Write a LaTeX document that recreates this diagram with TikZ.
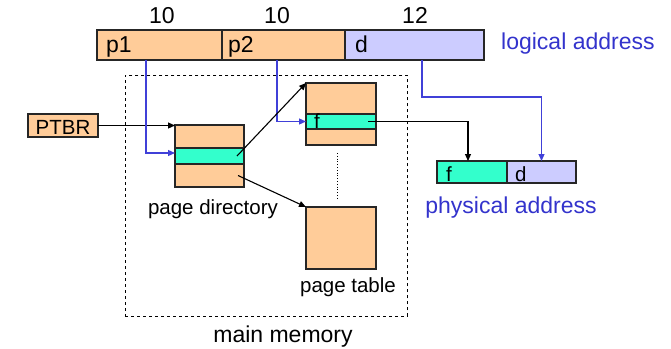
\documentclass[tikz,border=0pt]{standalone}
\usepackage{fontspec}
\setmainfont{Liberation Sans}
\usetikzlibrary{arrows.meta,calc}
\definecolor{peach}{RGB}{255,204,153}
\definecolor{aqua}{RGB}{51,255,204}
\definecolor{lavender}{RGB}{204,204,255}
\definecolor{labelblue}{RGB}{51,51,204}
\definecolor{lineblue}{RGB}{64,64,216}
\tikzset{
  cell/.style={draw=black!85, line width=1.2pt, anchor=north west, inner sep=0pt, outer sep=0pt},
  pcell/.style={cell, fill=peach},
  acell/.style={cell, fill=aqua},
  lcell/.style={cell, fill=lavender},
  big/.style={font=\fontsize{23}{27}\selectfont, inner sep=0pt, anchor=base west},
  small/.style={font=\fontsize{20.5}{24}\selectfont, inner sep=0pt, anchor=base west},
  bluelabel/.style={big, text=labelblue},
  tip/.style={-{Triangle[length=7pt,width=6pt]}},
  link/.style={tip, line width=1.1pt, black},
  bluelink/.style={tip, line width=1.2pt, lineblue},
}
\begin{document}
\begin{tikzpicture}[x=1pt,y=-1pt]
\useasboundingbox (0,0) rectangle (671,348);

% main memory frame
\node[draw, dashed, line width=0.8pt, anchor=north west, minimum width=282pt, minimum height=241pt, inner sep=0pt] (mem) at (125,75) {};
\node[big, anchor=base] (memlbl) at (283,342) {main memory};

% logical address
\node[pcell, minimum width=125pt, minimum height=30pt] (p1) at (97,30) {};
\node[pcell, minimum width=123pt, minimum height=30pt] (p2) at (222,30) {};
\node[lcell, minimum width=139pt, minimum height=30pt] (d) at (345,30) {};
\node[big] (p1t) at (106,52) {p1};
\node[big] (p2t) at (228,52) {p2};
\node[big] (dt) at (355,52) {d};
\node[big, anchor=base] (w1) at (162,23) {10};
\node[big, anchor=base] (w2) at (277,23) {10};
\node[big, anchor=base] (w3) at (415,23) {12};
\node[bluelabel] (logl) at (501,49) {logical address};

% PTBR register
\node[pcell, minimum width=70pt, minimum height=23pt] (ptbr) at (28,114) {};
\node[small, anchor=base] (ptbrt) at (ptbr.center |- 0,134) {PTBR};

% page directory
\node[pcell, minimum width=69pt, minimum height=23pt] (pdtop) at (175,125) {};
\node[acell, minimum width=69pt, minimum height=16pt] (pdmid) at (175,148) {};
\node[pcell, minimum width=69pt, minimum height=23pt] (pdbot) at (175,164) {};
\node[small, anchor=base] (pdl) at (213,214) {page directory};

% page table holding the frame entry
\node[pcell, minimum width=70pt, minimum height=31pt] (pttop) at (306,83) {};
\node[acell, minimum width=70pt, minimum height=15pt] (ptmid) at (306,114) {};
\node[pcell, minimum width=70pt, minimum height=16pt] (ptbot) at (306,129) {};
\node[small] (ptf) at (314,128) {f};

% another page table
\node[pcell, minimum width=70pt, minimum height=62pt] (pt2) at (306,207) {};
\node[small, anchor=base] (ptl) at (348,292) {page table};

% physical address
\node[acell, minimum width=70pt, minimum height=22pt] (pf) at (437,161) {};
\node[lcell, minimum width=69pt, minimum height=22pt] (pd) at (507,161) {};
\node[small] (pft) at (446,181) {f};
\node[small] (pdt) at (515,181) {d};
\node[bluelabel, anchor=base] (physl) at (511,213) {physical address};

% connectors
\draw[link] (ptbr.east) -- (ptbr.east -| pdtop.west);
\draw[bluelink] ([xshift=-13.5pt]p1.south) |- ([yshift=3pt]pdmid.west);
\draw[bluelink] ([xshift=-6.5pt]p2.south) |- (ptmid.west);
\draw[bluelink] ([xshift=7.5pt]d.south) |- ([yshift=64pt]pd.north) -- (pd.north);
\draw[link] ([xshift=-7pt]pdmid.east) -- (pttop.north west);
\draw[link] ([xshift=-6pt]pdbot.east) -- (pt2.north west);
\draw[link] ([xshift=-8pt]ptmid.east) -| ([xshift=-4pt]pf.north);
\draw[dotted, line width=0.8pt] ([shift={(-4pt,-8pt)}]ptbot.south) -- ([shift={(-4pt,9pt)}]pt2.north);
\end{tikzpicture}
\end{document}
